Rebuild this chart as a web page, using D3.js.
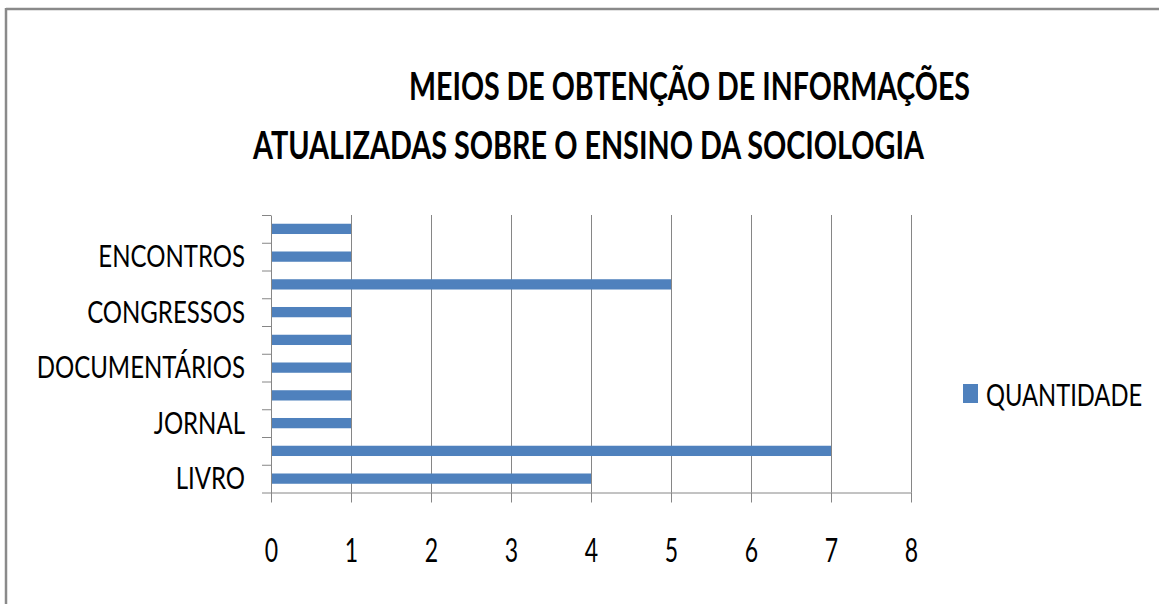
<!DOCTYPE html>
<html>
<head>
<meta charset="utf-8">
<script src="https://cdn.jsdelivr.net/npm/d3@7"></script>
<style>
  body { margin: 0; background: #fff; }
  svg { display: block; font-family: Lato, "Open Sans", sans-serif; }
</style>
</head>
<body>
<svg id="chart" width="1159" height="604"></svg>
<script>
// data, bottom to top (the chart only labels every other bar)
const categories = ["LIVRO", "INTERNET", "JORNAL", "TELEVISÃO", "DOCUMENTÁRIOS", "PALESTRAS", "CONGRESSOS", "SEMINÁRIOS", "ENCONTROS", "OUTROS"];
const quantidade = [4, 7, 1, 1, 1, 1, 1, 5, 1, 1];
const shownLabels = ["LIVRO", "JORNAL", "DOCUMENTÁRIOS", "CONGRESSOS", "ENCONTROS"];
const xTicks = [0, 1, 2, 3, 4, 5, 6, 7, 8];
const titleLines = ["MEIOS DE OBTENÇÃO DE INFORMAÇÕES", "ATUALIZADAS SOBRE O ENSINO DA SOCIOLOGIA"];
const seriesName = "QUANTIDADE";

const svg = d3.select("#chart");
const axisColor = "#868686";
const barColor = "#4f81bd";
// text in the original looks horizontally squashed
const squeezeTicks = 0.72;
const squeezeLabels = 0.8;
const squeezeLegend = 0.765;

// frame
svg.append("line").attr("x1", 6).attr("x2", 1159).attr("y1", 9).attr("y2", 9)
  .attr("stroke", "#8a8a8a").attr("stroke-width", 2.5);
svg.append("line").attr("x1", 6).attr("x2", 6).attr("y1", 8).attr("y2", 604)
  .attr("stroke", "#8a8a8a").attr("stroke-width", 2.5);

// title
const titleX = [[409, 970], [253, 924]];
const titleY = [100, 159];
titleLines.forEach((t, i) => {
  svg.append("text")
    .attr("x", titleX[i][0])
    .attr("y", titleY[i])
    .attr("font-size", 38)
    .attr("font-weight", "bold")
    .attr("fill", "#000")
    .attr("textLength", titleX[i][1] - titleX[i][0])
    .attr("lengthAdjust", "spacingAndGlyphs")
    .text(t);
});

// plot area
const plotLeft = 271, plotRight = 911, plotTop = 215, plotBottom = 492.5;

const x = d3.scaleLinear().domain([0, 8]).range([plotLeft, plotRight]);
const y = d3.scaleBand().domain(categories).range([plotBottom, plotTop])
  .paddingInner(0.63).paddingOuter(0.315);
const yEdges = d3.scaleLinear().domain([0, categories.length]).range([plotBottom, plotTop]);

// vertical gridlines
svg.append("g")
  .attr("transform", `translate(0,${plotBottom})`)
  .call(d3.axisBottom(x).tickValues(xTicks.slice(1)).tickSize(-(plotBottom - plotTop)).tickFormat(""))
  .call(g => g.select(".domain").remove())
  .call(g => g.selectAll("line").attr("stroke", axisColor));

// bars
svg.append("g").selectAll("rect")
  .data(categories)
  .join("rect")
  .attr("x", x(0))
  .attr("y", d => y(d))
  .attr("width", (d, i) => x(quantidade[i]) - x(0))
  .attr("height", y.bandwidth())
  .attr("fill", barColor);

// x axis
const xAxis = svg.append("g")
  .attr("transform", `translate(0,${plotBottom})`)
  .call(d3.axisBottom(x).tickValues(xTicks).tickSize(10).tickSizeOuter(0).tickFormat(d3.format("d")));
xAxis.select(".domain").attr("stroke", axisColor);
xAxis.selectAll(".tick line").attr("stroke", axisColor);
xAxis.selectAll("text")
  .attr("font-size", 32)
  .attr("font-family", "Lato, 'Open Sans', sans-serif")
  .attr("fill", "#000")
  .attr("y", 47)
  .attr("transform", `scale(${squeezeTicks},1)`);

// y axis: ticks on the band edges
const yAxis = svg.append("g")
  .attr("transform", `translate(${plotLeft},0)`)
  .call(d3.axisLeft(yEdges).ticks(categories.length).tickSize(9).tickSizeOuter(0).tickFormat(""));
yAxis.select(".domain").attr("stroke", axisColor);
yAxis.selectAll(".tick line").attr("stroke", axisColor);

// category labels, every other one
const yLabels = svg.append("g")
  .attr("transform", `translate(${plotLeft},0)`)
  .call(d3.axisLeft(y).tickValues(shownLabels).tickSize(0));
yLabels.select(".domain").remove();
yLabels.selectAll("text")
  .attr("font-size", 30)
  .attr("font-family", "Lato, 'Open Sans', sans-serif")
  .attr("fill", "#000")
  .attr("x", -26 / squeezeLabels)
  .attr("dy", "0.36em")
  .attr("transform", `scale(${squeezeLabels},1)`);

// legend
const legend = svg.append("g").attr("transform", "translate(963,384)");
legend.append("rect").attr("width", 15).attr("height", 19).attr("fill", barColor);
legend.append("text")
  .attr("transform", `translate(23,22) scale(${squeezeLegend},1)`)
  .attr("font-size", 31)
  .attr("fill", "#000")
  .text(seriesName);
</script>
</body>
</html>
